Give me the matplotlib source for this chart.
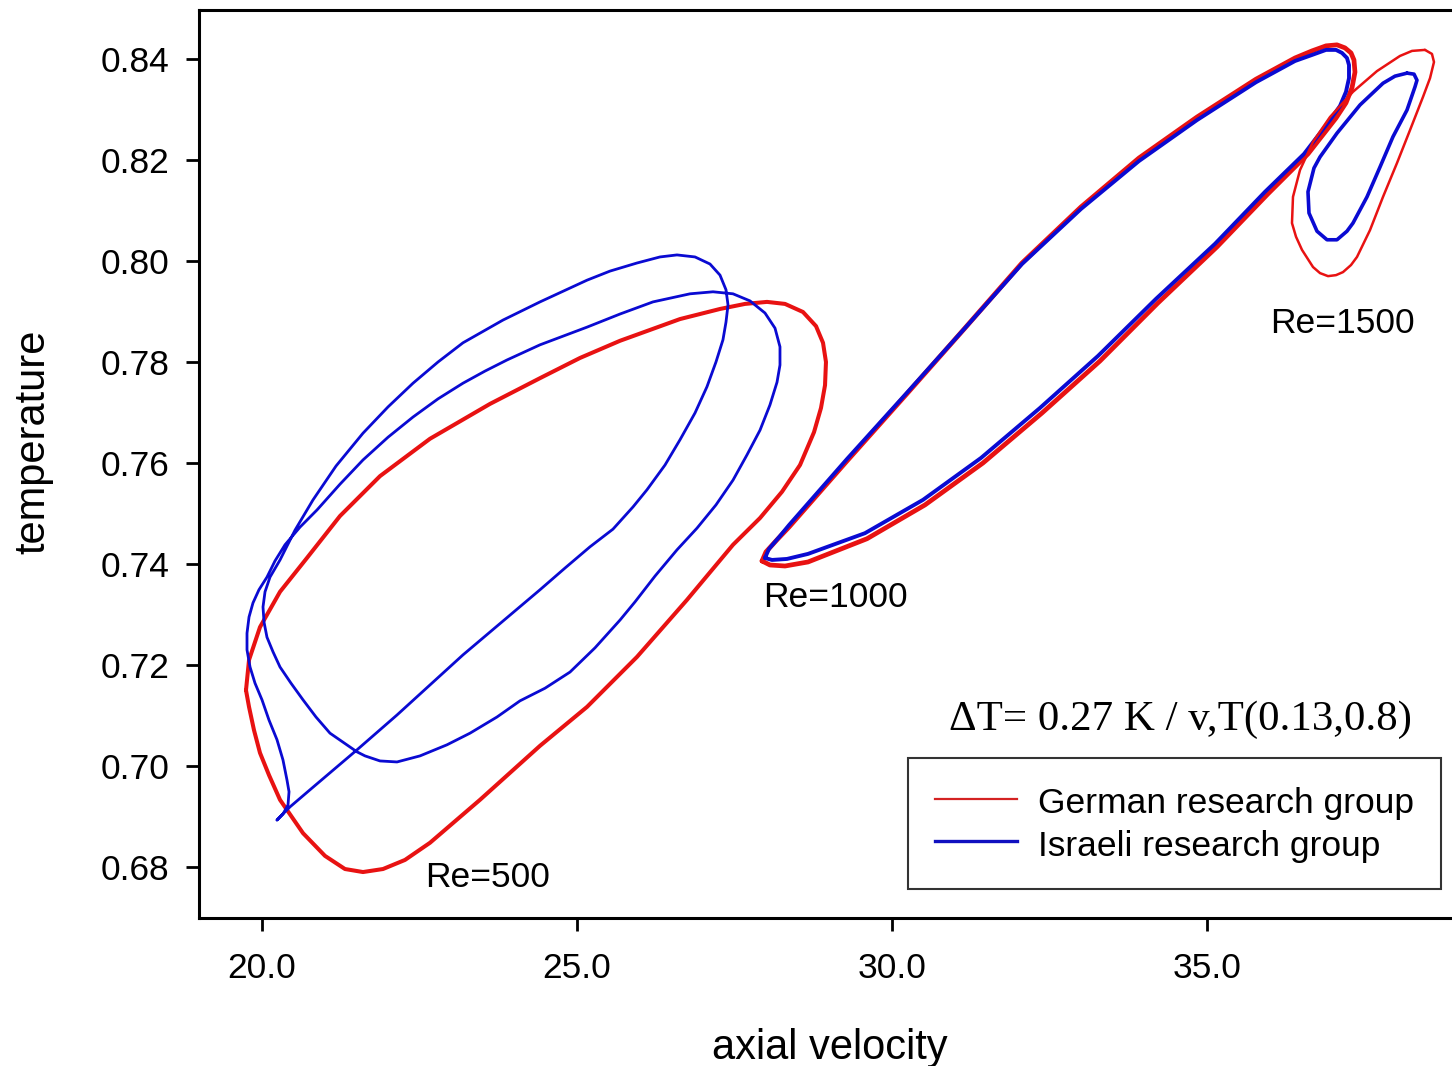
import matplotlib
matplotlib.use("Agg")
import matplotlib.pyplot as plt
from matplotlib.ticker import FormatStrFormatter

# ---------------- data (axial velocity, temperature) ----------------
# Re = 500, German group (red)
red500_x = [19.746, 19.794, 19.968, 20.286, 20.714, 21.238, 21.873, 22.667, 23.619, 24.413,
            25.048, 25.683, 26.635, 27.270, 27.667, 28.016, 28.302, 28.587, 28.794, 28.905,
            28.952, 28.937, 28.873, 28.762, 28.540, 28.254, 27.905, 27.476, 26.746, 25.952,
            25.159, 24.413, 23.460, 22.667, 22.270, 21.921, 21.603, 21.317, 21.000, 20.651,
            20.286, 20.111, 19.968, 19.873, 19.794, 19.746]
red500_y = [0.7150, 0.7210, 0.7275, 0.7345, 0.7412, 0.7495, 0.7574, 0.7648, 0.7717, 0.7768,
            0.7808, 0.7842, 0.7885, 0.7905, 0.7915, 0.7919, 0.7915, 0.7899, 0.7871, 0.7838,
            0.7800, 0.7754, 0.7709, 0.7661, 0.7596, 0.7543, 0.7491, 0.7438, 0.7329, 0.7216,
            0.7117, 0.7040, 0.6933, 0.6848, 0.6814, 0.6796, 0.6790, 0.6796, 0.6822, 0.6867,
            0.6933, 0.6982, 0.7026, 0.7071, 0.7117, 0.7150]

# Re = 500, Israeli group (blue, period-2 orbit)
blue500_x = [20.238, 20.333, 20.413, 20.429, 20.397, 20.333, 20.238, 20.111, 20.000, 19.889,
             19.810, 19.762, 19.762, 19.794, 19.857, 19.952, 20.079, 20.206, 20.365, 20.603,
             20.873, 21.238, 21.603, 22.000, 22.397, 22.794, 23.190, 23.540, 23.889, 24.413,
             25.159, 25.683, 26.206, 26.794, 27.159, 27.476, 27.746, 27.984, 28.143, 28.222,
             28.222, 28.175, 28.063, 27.905, 27.698, 27.476, 27.206, 26.905, 26.587, 26.238,
             25.921, 25.683, 25.286, 24.889, 24.492, 24.095, 23.730, 23.302, 22.937, 22.508,
             22.143, 21.873, 21.635, 21.508, 21.079, 20.857, 20.651, 20.460, 20.286, 20.175,
             20.079, 20.032, 20.016, 20.048, 20.127, 20.286, 20.524, 20.810, 21.175, 21.603,
             22.000, 22.397, 22.794, 23.190, 23.825, 24.413, 25.159, 25.524, 25.952, 26.317,
             26.587, 26.873, 27.111, 27.270, 27.365, 27.397, 27.365, 27.317, 27.206, 27.063,
             26.873, 26.635, 26.397, 26.111, 25.889, 25.571, 25.206, 24.810, 24.413, 23.190,
             22.143, 21.508, 20.810, 20.444, 20.238]
blue500_y = [0.6893, 0.6905, 0.6923, 0.6949, 0.6972, 0.7012, 0.7052, 0.7091, 0.7131, 0.7164,
             0.7196, 0.7230, 0.7263, 0.7295, 0.7323, 0.7349, 0.7374, 0.7406, 0.7438, 0.7473,
             0.7507, 0.7558, 0.7606, 0.7651, 0.7691, 0.7727, 0.7758, 0.7782, 0.7804, 0.7834,
             0.7869, 0.7895, 0.7919, 0.7935, 0.7939, 0.7935, 0.7921, 0.7897, 0.7867, 0.7830,
             0.7794, 0.7760, 0.7715, 0.7665, 0.7616, 0.7566, 0.7517, 0.7471, 0.7428, 0.7376,
             0.7325, 0.7289, 0.7234, 0.7186, 0.7154, 0.7129, 0.7097, 0.7065, 0.7042, 0.7020,
             0.7008, 0.7010, 0.7020, 0.7028, 0.7065, 0.7097, 0.7131, 0.7164, 0.7196, 0.7226,
             0.7255, 0.7285, 0.7315, 0.7345, 0.7374, 0.7408, 0.7467, 0.7527, 0.7594, 0.7659,
             0.7711, 0.7758, 0.7800, 0.7838, 0.7883, 0.7919, 0.7962, 0.7980, 0.7996, 0.8008,
             0.8012, 0.8008, 0.7994, 0.7972, 0.7943, 0.7913, 0.7879, 0.7844, 0.7800, 0.7751,
             0.7699, 0.7646, 0.7596, 0.7547, 0.7513, 0.7469, 0.7434, 0.7392, 0.7349, 0.7220,
             0.7101, 0.7032, 0.6958, 0.6919, 0.6893]

# Re = 1000
red1000_x = [27.937, 28.000, 28.175, 28.365, 29.286, 30.222, 31.143, 32.063, 33.000, 33.921,
             34.841, 35.778, 36.397, 36.667, 36.889, 37.063, 37.190, 37.286, 37.333, 37.349,
             37.302, 37.206, 37.048, 36.603, 35.968, 35.159, 34.222, 33.302, 32.381, 31.444,
             30.524, 29.603, 28.667, 28.302, 28.063, 27.937]
red1000_y = [0.7406, 0.7424, 0.7448, 0.7473, 0.7604, 0.7735, 0.7865, 0.7996, 0.8107, 0.8204,
             0.8285, 0.8360, 0.8402, 0.8416, 0.8426, 0.8428, 0.8422, 0.8412, 0.8398, 0.8374,
             0.8343, 0.8313, 0.8283, 0.8212, 0.8133, 0.8028, 0.7917, 0.7802, 0.7699, 0.7600,
             0.7517, 0.7450, 0.7404, 0.7396, 0.7398, 0.7406]
blue1000_x = [27.984, 28.048, 28.206, 28.365, 29.286, 30.222, 31.143, 32.063, 33.000, 33.921,
              34.841, 35.778, 36.397, 36.667, 36.889, 37.048, 37.143, 37.222, 37.254, 37.254,
              37.206, 37.111, 36.952, 36.540, 35.921, 35.127, 34.190, 33.270, 32.349, 31.413,
              30.492, 29.571, 28.667, 28.333, 28.095, 27.984]
blue1000_y = [0.7412, 0.7430, 0.7453, 0.7477, 0.7608, 0.7737, 0.7865, 0.7994, 0.8103, 0.8198,
              0.8279, 0.8354, 0.8396, 0.8408, 0.8418, 0.8418, 0.8412, 0.8402, 0.8388, 0.8362,
              0.8335, 0.8307, 0.8279, 0.8212, 0.8137, 0.8034, 0.7925, 0.7812, 0.7709, 0.7610,
              0.7527, 0.7461, 0.7420, 0.7410, 0.7408, 0.7412]

# Re = 1500
red1500_x = [38.460, 38.254, 38.063, 37.698, 37.317, 36.952, 36.683, 36.476, 36.365, 36.349,
             36.413, 36.508, 36.683, 36.794, 36.921, 37.048, 37.159, 37.286, 37.381, 37.587,
             37.794, 38.016, 38.222, 38.429, 38.540, 38.603, 38.571, 38.460]
red1500_y = [0.8418, 0.8416, 0.8406, 0.8376, 0.8335, 0.8285, 0.8236, 0.8180, 0.8127, 0.8075,
             0.8048, 0.8022, 0.7988, 0.7976, 0.7970, 0.7972, 0.7978, 0.7992, 0.8008, 0.8061,
             0.8127, 0.8194, 0.8259, 0.8325, 0.8362, 0.8394, 0.8410, 0.8418]
blue1500_x = [38.175, 37.984, 37.794, 37.429, 37.063, 36.794, 36.698, 36.603, 36.619, 36.746,
              36.905, 37.063, 37.222, 37.317, 37.540, 37.746, 37.952, 38.175, 38.302, 38.333,
              38.286, 38.175]
blue1500_y = [0.8372, 0.8366, 0.8352, 0.8309, 0.8253, 0.8206, 0.8184, 0.8137, 0.8095, 0.8059,
              0.8042, 0.8042, 0.8059, 0.8075, 0.8127, 0.8186, 0.8246, 0.8299, 0.8345, 0.8358,
              0.8370, 0.8372]

x_ticks = [20.0, 25.0, 30.0, 35.0]
y_ticks = [0.68, 0.70, 0.72, 0.74, 0.76, 0.78, 0.80, 0.82, 0.84]
re_labels = ["Re=500", "Re=1000", "Re=1500"]
re_label_pos = [(23.58, 0.6780), (29.1, 0.7333), (37.15, 0.7876)]
series_names = ["German research group", "Israeli research group"]
note_text = "\u0394T= 0.27 K / v,T(0.13,0.8)"

# ---------------- figure ----------------
RED = "#e81212"
BLUE = "#0a0ad2"
W, H = 1452, 1066
fig = plt.figure(figsize=(W / 100, H / 100), dpi=100)
ax = fig.add_axes([199 / W, (H - 918) / H, (W - 199) / W, (918 - 10) / H])

sans = ["Liberation Sans", "DejaVu Sans"]
kw = dict(solid_joinstyle="round", solid_capstyle="round")

ax.plot(red500_x, red500_y, color=RED, lw=2.9, **kw)
ax.plot(blue500_x, blue500_y, color=BLUE, lw=2.0, **kw)
ax.plot(red1000_x, red1000_y, color=RED, lw=3.4, **kw)
ax.plot(blue1000_x, blue1000_y, color=BLUE, lw=2.8, **kw)
ax.plot(red1500_x, red1500_y, color=RED, lw=1.8, **kw)
ax.plot(blue1500_x, blue1500_y, color=BLUE, lw=2.6, **kw)

ax.set_xlim(19.0, 38.889)
ax.set_ylim(0.6699, 0.8497)
ax.set_xticks(x_ticks)
ax.set_yticks(y_ticks)
ax.xaxis.set_major_formatter(FormatStrFormatter("%.1f"))
ax.yaxis.set_major_formatter(FormatStrFormatter("%.2f"))
ax.tick_params(direction="out", length=9.5, width=2.0, labelsize=25.5, pad=12)
ax.tick_params(axis="x", pad=15)
for lab in ax.get_xticklabels() + ax.get_yticklabels():
    lab.set_family(sans)

for s in ["left", "bottom", "top"]:
    ax.spines[s].set_linewidth(2.2)
ax.spines["right"].set_visible(False)

ax.set_xlabel("axial velocity", fontsize=30, family=sans)
ax.set_ylabel("temperature", fontsize=30, family=sans)
ax.xaxis.set_label_coords((830 - 199) / 1253, -0.121)
ax.yaxis.set_label_coords(-0.116, 0.524)

for txt, (tx, ty) in zip(re_labels, re_label_pos):
    ax.text(tx, ty, txt, fontsize=25.5, family=sans, ha="center", va="center")

fig.text(1180 / W, 1 - 720 / H, note_text, fontsize=30.9,
         family=["Liberation Serif", "DejaVu Serif"], ha="center", va="center")

handles = [plt.Line2D([], [], color="#d42222", lw=1.6),
           plt.Line2D([], [], color="#1010c0", lw=2.4)]
leg = fig.legend(handles, series_names, loc="upper left",
                 bbox_to_anchor=(908 / W, 1 - 758 / H), bbox_transform=fig.transFigure,
                 prop={"family": sans, "size": 25.5}, frameon=True, fancybox=False,
                 edgecolor="black", handlelength=2.32, handleheight=1.05,
                 handletextpad=0.6, labelspacing=0.2, borderpad=0.75, borderaxespad=0)
leg.get_frame().set_linewidth(1.5)

fig.savefig("out.png", dpi=100)
